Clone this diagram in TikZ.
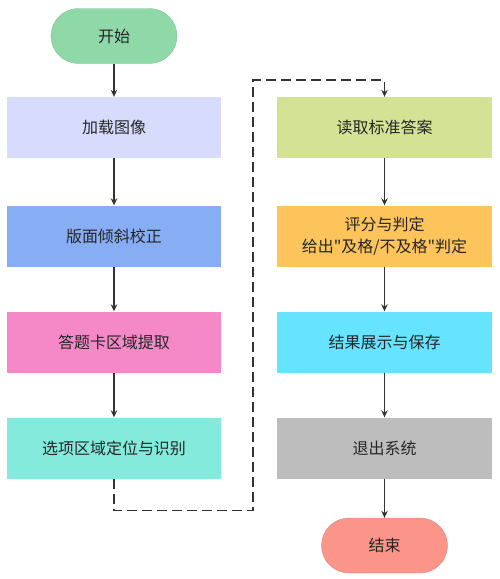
\documentclass[tikz,border=0pt]{standalone}
\usepackage{fontspec}
\newfontfamily\cjk{Noto Sans CJK SC}
\usetikzlibrary{arrows.meta}

\begin{document}
\begin{tikzpicture}[x=1pt,y=-1pt,
  box/.style={minimum width=214pt,minimum height=61pt,inner sep=0pt,text=black!85,font=\cjk\fontsize{16}{22}\selectfont,align=center},
  term/.style={minimum width=126pt,minimum height=55pt,rounded corners=27.5pt,inner sep=0pt,text=black!85,font=\cjk\fontsize{16}{22}\selectfont},
  arr/.style={draw=black!80,line width=1.2pt,-{Stealth[length=7pt,width=6.5pt]}}]
\useasboundingbox (0,0) rectangle (500,579);
\definecolor{cStart}{RGB}{143,216,168}
\definecolor{cLoad}{RGB}{215,219,252}
\definecolor{cTilt}{RGB}{135,174,245}
\definecolor{cCard}{RGB}{245,137,200}
\definecolor{cOpt}{RGB}{132,235,220}
\definecolor{cKey}{RGB}{212,226,149}
\definecolor{cScore}{RGB}{253,196,92}
\definecolor{cShow}{RGB}{102,227,255}
\definecolor{cExit}{RGB}{189,189,189}
\definecolor{cEnd}{RGB}{251,148,137}
% left column
\node[term,fill=cStart,draw=cStart!90!black,line width=0.4pt] (start) at (114,36) {开始};
\node[box,fill=cLoad] (load) at (114,127.5) {加载图像};
\node[box,fill=cTilt] (tilt) at (114,236) {版面倾斜校正};
\node[box,fill=cCard] (card) at (114,342) {答题卡区域提取};
\node[box,fill=cOpt] (opt) at (114,448) {选项区域定位与识别};
% right column
\node[box,fill=cKey,minimum width=215pt] (key) at (384.5,127.5) {读取标准答案};
\node[box,fill=cScore,minimum width=215pt] (score) at (384.5,236) {评分与判定\\给出"及格/不及格"判定};
\node[box,fill=cShow,minimum width=215pt] (show) at (384.5,342) {结果展示与保存};
\node[box,fill=cExit,minimum width=215pt] (exit) at (384.5,448) {退出系统};
\node[term,fill=cEnd,draw=cEnd!90!black,line width=0.4pt] (end) at (384.5,545.5) {结束};
% arrows
\draw[arr] (start) -- (load);
\draw[arr] (load) -- (tilt);
\draw[arr] (tilt) -- (card);
\draw[arr] (card) -- (opt);
\draw[arr,dash pattern=on 10pt off 5pt] (opt.south) -- ++(0,32) -| (253,80) -| (key.north);
\draw[arr] (key) -- (score);
\draw[arr] (score) -- (show);
\draw[arr] (show) -- (exit);
\draw[arr] (exit) -- (end);
\end{tikzpicture}
\end{document}
